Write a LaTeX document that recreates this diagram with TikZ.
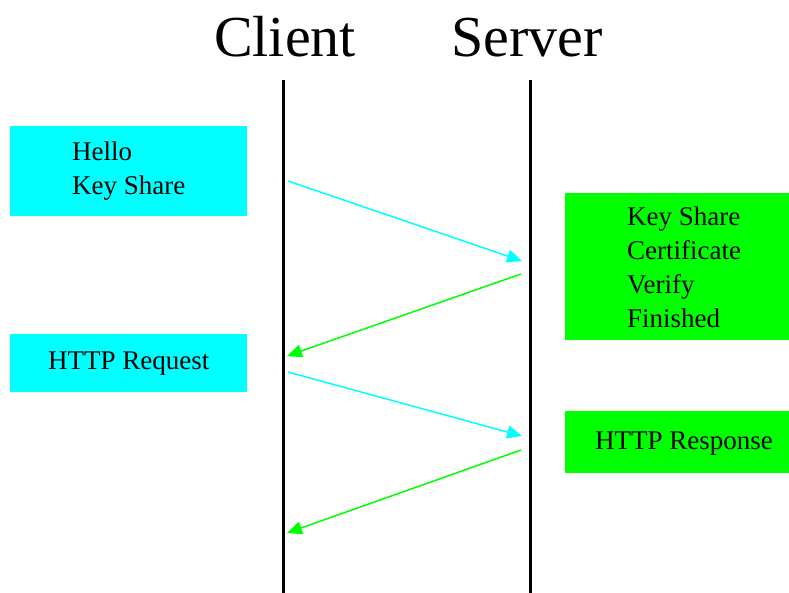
\documentclass[tikz,border=0pt]{standalone}
\usepackage{fontspec}
\setmainfont{Liberation Serif}
\usetikzlibrary{arrows.meta}
\definecolor{cyanc}{HTML}{00FFFF}
\definecolor{greenc}{HTML}{00FF00}
\tikzset{
  title/.style={anchor=base, inner sep=0pt, font=\fontsize{58}{60}\selectfont},
  lifeline/.style={line width=3pt, black},
  cbox/.style={fill=cyanc, draw=none, anchor=north west, inner sep=0pt},
  gbox/.style={fill=greenc, draw=none, anchor=north west, inner sep=0pt},
  boxtext/.style={anchor=west, align=left, inner sep=0pt, font=\fontsize{27}{34}\selectfont},
  msgc/.style={cyanc, line width=1.5pt, -{Triangle[length=15pt,width=13pt]}},
  msgg/.style={greenc, line width=1.5pt, -{Triangle[length=15pt,width=13pt]}}
}
\begin{document}
\begin{tikzpicture}[x=1pt,y=-1pt]
\useasboundingbox (0,0) rectangle (789,593);
\fill[white] (0,0) rectangle (789,593);
% titles
\node[title] (client) at (285,56.5) {Client};
\node[title] (server) at (527,56.5) {Server};
% lifelines
\coordinate (ctop) at (283,80);
\coordinate (cbot) at (283,593);
\coordinate (stop) at (530,80);
\coordinate (sbot) at (530,593);
\draw[lifeline] (ctop) -- (cbot);
\draw[lifeline] (stop) -- (sbot);
% boxes
\node[cbox, minimum width=237pt, minimum height=90pt] (b1) at (10,126) {};
\node[boxtext] (t1) at (72,171.5) {Hello\\Key Share};
\node[gbox, minimum width=224pt, minimum height=147pt] (b2) at (565,193) {};
\node[boxtext] (t2) at (627,267.5) {Key Share\\Certificate\\Verify\\Finished};
\node[cbox, minimum width=237pt, minimum height=58pt] (b3) at (10,334) {};
\node[boxtext, anchor=base west] (t3) at (48,369.5) {HTTP Request};
\node[gbox, minimum width=224pt, minimum height=62pt] (b4) at (565,411) {};
\node[boxtext, anchor=base west] (t4) at (595,449) {HTTP Response};
% message points
\coordinate (m1s) at (288,181);
\coordinate (m1e) at (522,261);
\coordinate (m2s) at (521,274);
\coordinate (m2e) at (287,356);
\coordinate (m3s) at (288,372);
\coordinate (m3e) at (522,436);
\coordinate (m4s) at (521,450);
\coordinate (m4e) at (287,533);
\draw[msgc] (m1s) -- (m1e);
\draw[msgg] (m2s) -- (m2e);
\draw[msgc] (m3s) -- (m3e);
\draw[msgg] (m4s) -- (m4e);
\end{tikzpicture}
\end{document}
